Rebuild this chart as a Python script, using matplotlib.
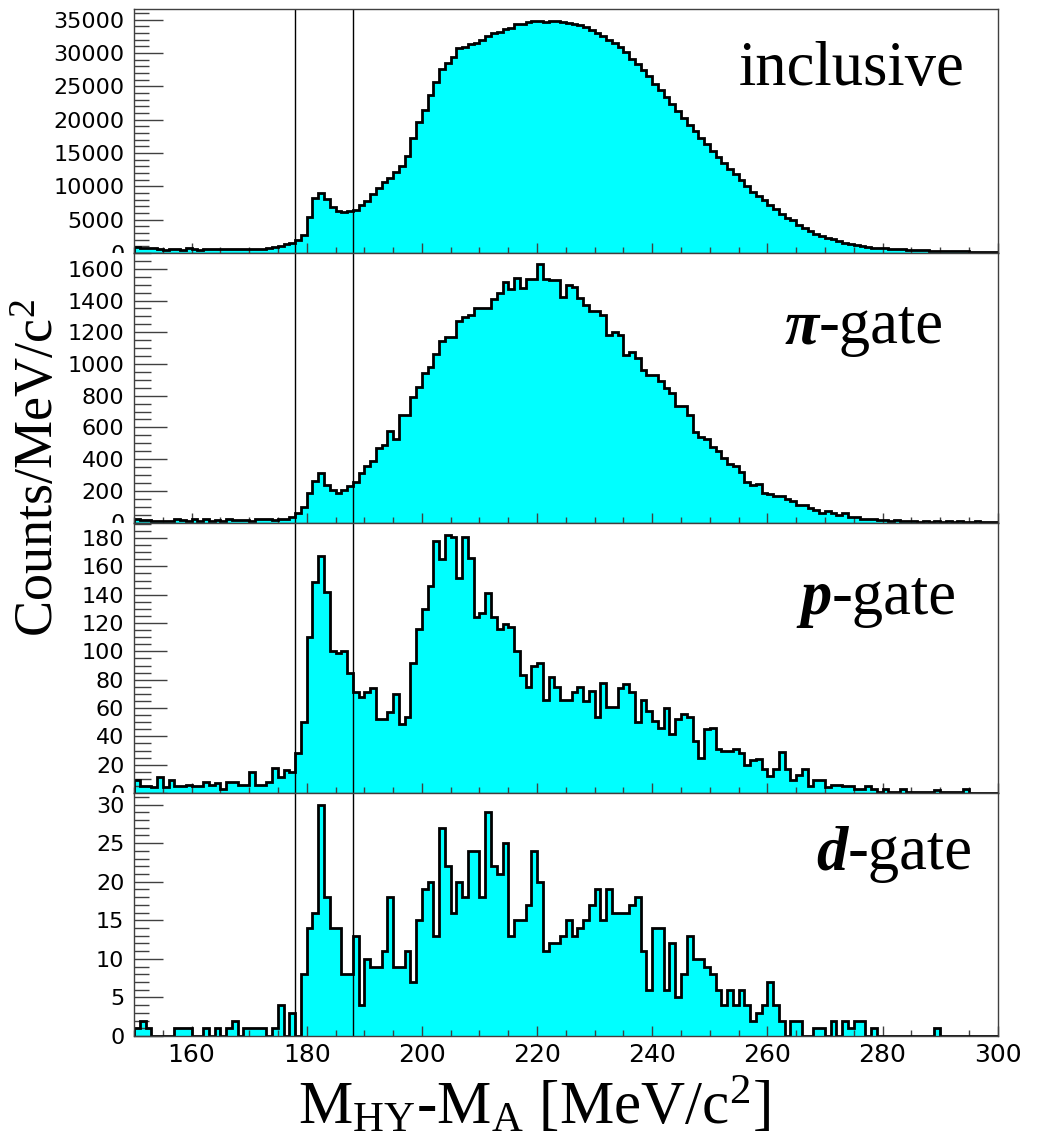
import numpy as np
import matplotlib
matplotlib.use("Agg")
import matplotlib.pyplot as plt
from matplotlib.ticker import MultipleLocator
from matplotlib.transforms import Bbox, TransformedBbox

plt.rcParams["mathtext.fontset"] = "custom"
plt.rcParams["mathtext.rm"] = "Liberation Serif"
plt.rcParams["mathtext.it"] = "Liberation Serif:italic"
plt.rcParams["mathtext.bf"] = "Liberation Serif:bold"

# 1 MeV/c2 bins, 150 -> 300
bin_edges = np.arange(150, 301, 1)

inclusive = [
    900, 700, 700, 700, 650, 400, 650, 650, 500, 750,
    600, 450, 650, 650, 650, 650, 650, 650, 650, 650,
    650, 650, 650, 700, 900, 1100, 1300, 1550, 1900, 2750,
    5400, 8300, 8950, 8150, 6900, 6300, 6200, 6300, 6500, 7200,
    7800, 8800, 9700, 10600, 11300, 12100, 13100, 14500, 17200, 19600,
    21500, 23700, 25600, 27600, 28500, 29400, 30700, 30900, 31400, 31500,
    32000, 32500, 33000, 33100, 33600, 33700, 34300, 34400, 34700, 34750,
    34850, 34600, 34850, 34850, 34600, 34550, 34400, 34200, 33900, 33500,
    33000, 32500, 32000, 31500, 30900, 30200, 29100, 28300, 27400, 26500,
    25400, 24500, 23400, 22400, 21300, 20200, 19200, 18300, 17200, 16400,
    15300, 14400, 13500, 12600, 11800, 10900, 10000, 9200, 8500, 7900,
    7200, 6600, 5900, 5300, 4900, 4200, 3800, 3300, 2900, 2600,
    2300, 2050, 1800, 1550, 1350, 1150, 1050, 950, 800, 750,
    700, 600, 550, 550, 500, 450, 400, 380, 350, 320,
    300, 280, 260, 250, 230, 220, 200, 190, 180, 170,
]

pi_gate = [
    20, 15, 15, 10, 10, 10, 10, 20, 15, 10,
    20, 10, 20, 10, 15, 10, 20, 15, 15, 15,
    10, 20, 20, 20, 15, 25, 25, 32, 63, 95,
    187, 263, 315, 235, 204, 189, 204, 229, 256, 315,
    357, 389, 467, 492, 576, 525, 677, 677, 793, 856,
    946, 980, 1060, 1146, 1171, 1171, 1270, 1297, 1312, 1354,
    1354, 1354, 1407, 1445, 1514, 1476, 1544, 1480, 1535, 1535,
    1628, 1539, 1529, 1529, 1424, 1497, 1483, 1418, 1375, 1333,
    1333, 1308, 1182, 1199, 1182, 1056, 1077, 1039, 961, 930,
    930, 892, 850, 820, 736, 736, 677, 572, 540, 526,
    477, 450, 404, 372, 357, 320, 256, 235, 240, 189,
    177, 168, 168, 151, 135, 109, 109, 92, 78, 63,
    74, 57, 46, 57, 36, 36, 25, 25, 25, 15,
    15, 12, 15, 10, 8, 10, 6, 8, 5, 10,
    5, 8, 5, 10, 5, 5, 8, 5, 5, 5,
]

p_gate = [
    9, 5, 5, 4, 11, 4, 9, 5, 5, 6,
    5, 5, 8, 6, 7, 3, 8, 8, 6, 6,
    15, 6, 6, 8, 18, 11, 16, 15, 28, 50,
    110, 149, 167, 142, 100, 99, 100, 85, 71, 68,
    71, 74, 52, 52, 57, 70, 49, 54, 92, 116,
    130, 146, 178, 165, 182, 181, 152, 181, 166, 124,
    127, 141, 124, 116, 119, 117, 100, 83, 75, 90,
    92, 66, 82, 75, 66, 66, 71, 75, 65, 72,
    54, 78, 61, 61, 74, 77, 71, 50, 66, 58,
    51, 46, 60, 42, 52, 56, 54, 37, 25, 45,
    46, 31, 30, 30, 31, 28, 20, 23, 24, 17,
    12, 17, 29, 17, 9, 13, 17, 5, 9, 9,
    4, 6, 6, 5, 5, 3, 3, 5, 3, 1,
    3, 1, 1, 3, 1, 1, 1, 1, 1, 2,
    1, 1, 1, 1, 3, 0, 0, 0, 0, 0,
]

d_gate = [
    1, 2, 1, 0, 0, 0, 0, 1, 1, 1,
    0, 0, 1, 0, 1, 0, 1, 2, 0, 1,
    1, 1, 1, 0, 1, 4, 0, 3, 0, 8,
    14, 16, 30, 18, 14, 14, 8, 8, 13, 4,
    10, 9, 9, 11, 18, 9, 9, 11, 7, 15,
    19, 20, 13, 27, 22, 16, 20, 18, 24, 24,
    18, 29, 22, 21, 25, 13, 15, 15, 17, 24,
    20, 11, 12, 12, 13, 15, 13, 14, 15, 17,
    19, 15, 19, 16, 16, 16, 17, 18, 11, 6,
    14, 14, 6, 12, 5, 8, 13, 10, 10, 9,
    8, 6, 4, 6, 4, 6, 4, 2, 3, 4,
    7, 4, 2, 0, 2, 2, 0, 0, 1, 1,
    0, 2, 0, 2, 1, 2, 2, 0, 1, 0,
    0, 0, 0, 0, 0, 0, 0, 0, 0, 1,
    0, 0, 0, 0, 0, 0, 0, 0, 0, 0,
]

gate_window = [178, 188]
x_ticks = [160, 180, 200, 220, 240, 260, 280, 300]

# (counts, bold-italic particle, rest of label, y max, major step, minor step)
panels = [
    (inclusive, "", "inclusive", 36600, 5000, 1000),
    (pi_gate, "\u03c0", "-gate", 1700, 200, 50),
    (p_gate, "p", "-gate", 191, 20, 5),
    (d_gate, "d", "-gate", 31.5, 5, 1),
]
label_pos = [(0.962, 0.689), (0.937, 0.666), (0.953, 0.661), (0.971, 0.687)]

W, H = 1038, 1143
fig = plt.figure(figsize=(W / 100, H / 100), dpi=100)

left, right = 134, 997.7
rows = [9, 253, 522.5, 793, 1036]
frame_col = "#404040"
serif = ["Liberation Serif", "DejaVu Serif"]

axes = []
prefixes = []
for k, (counts, part, rest, ymax, major, minor) in enumerate(panels):
    top, bot = rows[k], rows[k + 1]
    ax = fig.add_axes([left / W, 1 - bot / H, (right - left) / W, (bot - top) / H])
    axes.append(ax)

    ax.stairs(counts, bin_edges, fill=True, color="#00ffff", lw=0, zorder=1)
    ax.stairs(counts, bin_edges, color="black", lw=2.0, zorder=2)
    for xg in gate_window:
        ax.axvline(xg, color="black", lw=1.0, zorder=3)

    ax.set_xlim(150, 300)
    ax.set_ylim(0, ymax)

    yt = np.arange(0, ymax, major)
    ax.set_yticks(yt, labels=[str(int(v)) for v in yt])
    ax.yaxis.set_minor_locator(MultipleLocator(minor))
    ax.xaxis.set_minor_locator(MultipleLocator(5))
    if k == len(panels) - 1:
        ax.set_xticks(x_ticks, labels=[str(v) for v in x_ticks], fontsize=18,
                      family=["Liberation Sans Narrow", "DejaVu Sans Condensed", "DejaVu Sans"])
    else:
        ax.set_xticks(x_ticks, labels=[])

    big = 21 if k in (0, 3) else 24
    small = 11 if k in (0, 3) else 12
    ax.tick_params(axis="y", which="major", direction="in", length=big, width=1.0,
                   color=frame_col, labelsize=16, pad=7)
    ax.tick_params(axis="y", which="minor", direction="in", length=small, width=1.0,
                   color=frame_col)
    ax.tick_params(axis="x", which="major", direction="in", length=7, width=1.0,
                   color=frame_col, pad=5)
    ax.tick_params(axis="x", which="minor", direction="in", length=4, width=1.0,
                   color=frame_col)
    for sp in ax.spines.values():
        sp.set_color(frame_col)
        sp.set_linewidth(1.0)
        sp.set_zorder(4)

    lx, ly = label_pos[k]
    txt = ax.text(lx, ly, rest, transform=ax.transAxes, ha="right", va="baseline",
                  fontsize=45, family=serif, zorder=5)
    if part:
        prefixes.append((ax, txt, part))

fig.text(0.0385, 0.5906, r"Counts/MeV/c$^{2}$", rotation=90, ha="center", va="center",
         fontsize=39, family=serif)
fig.text(0.5145, 0.0157, r"M$_{\mathrm{HY}}$-M$_{\mathrm{A}}$ [MeV/c$^{2}$]",
         ha="center", va="baseline", fontsize=44, family=serif)

fig.canvas.draw()
renderer = fig.canvas.get_renderer()

# bold-italic particle symbol placed right before "-gate"
for ax, txt, part in prefixes:
    bb = txt.get_window_extent(renderer)
    yb = ax.transAxes.transform(txt.get_position())[1]
    fig.text(bb.x0 / fig.bbox.width, yb / fig.bbox.height, part, ha="right",
             va="baseline", fontsize=45, family=serif, weight="bold", style="italic")

# the "0" labels of the upper pads are cut by the pad below
for k, ax in enumerate(axes[:3]):
    pos = ax.get_position()
    clip = TransformedBbox(Bbox([[0, pos.y0], [pos.x0, 1]]), fig.transFigure)
    for lab in ax.get_yticklabels():
        if lab.get_text() == "0":
            lab.set_clip_on(True)
            lab.set_clip_box(clip)

fig.savefig("out.png", dpi=100)
